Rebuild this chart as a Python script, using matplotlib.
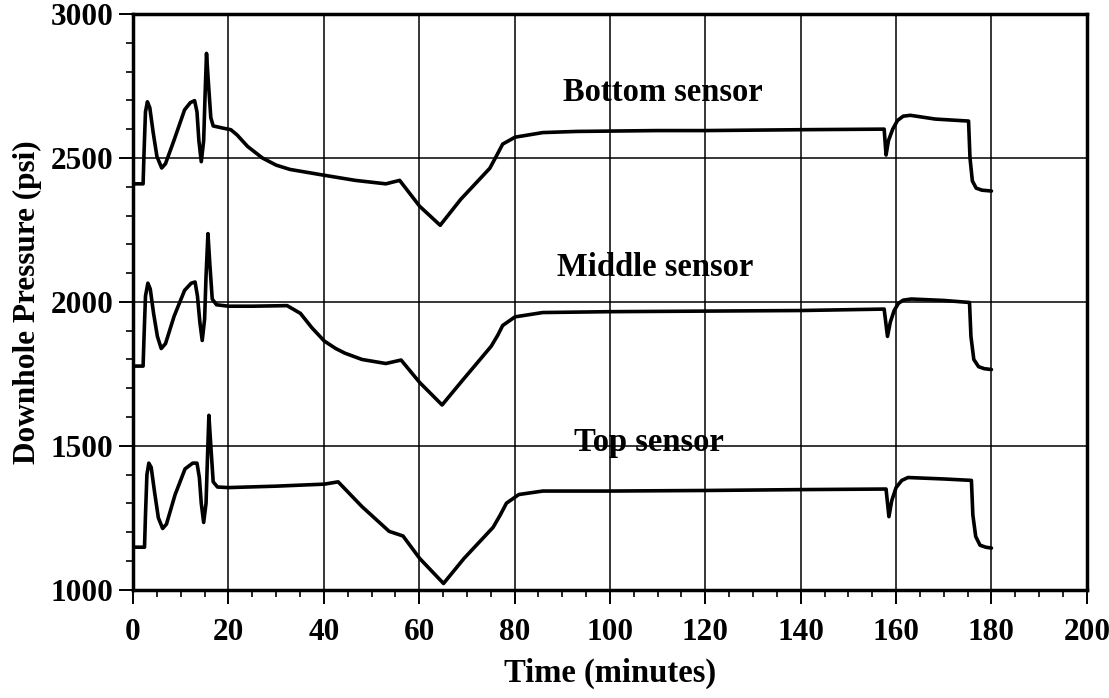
import numpy as np
import matplotlib
matplotlib.use("Agg")
import matplotlib.pyplot as plt
from matplotlib.ticker import MultipleLocator

# ---------------------------------------------------------------------------
# Data (time in minutes, pressure in psi)
# ---------------------------------------------------------------------------
bottom_t = [0, 2.1, 2.3, 2.6, 3.0, 3.5, 4.2, 5.0, 6.0, 6.8, 8.6, 10.8, 12.0,
            12.9, 13.4, 13.8, 14.3, 14.8, 15.1, 15.4, 15.8, 16.3, 16.8, 19,
            20.5, 21.8, 24, 27.1, 30, 32.9, 40, 46.6, 53, 55.9, 60.1, 64.4,
            68.7, 74.8, 76.3, 77.5, 80.1, 85.9, 93, 110, 120, 140, 157.5,
            157.9, 158.4, 159.3, 160.3, 161.5, 163, 168.2, 175.2, 175.5, 176.0,
            176.8, 178, 180]
bottom_p = [2410, 2410, 2520, 2660, 2695, 2675, 2590, 2505, 2465, 2480, 2562,
            2667, 2692, 2699, 2660, 2560, 2487, 2560, 2720, 2863, 2760, 2640,
            2611, 2603, 2598, 2580, 2540, 2500, 2475, 2460, 2440, 2422, 2410,
            2422, 2332, 2266, 2356, 2464, 2510, 2548, 2572, 2588, 2592, 2595,
            2595, 2598, 2600, 2510, 2560, 2600, 2630, 2645, 2648, 2635, 2628,
            2500, 2420, 2395, 2388, 2385]

middle_t = [0, 2.1, 2.3, 2.6, 3.1, 3.6, 4.3, 5.1, 5.9, 6.8, 8.6, 10.8, 12.2,
            13.0, 13.5, 14.0, 14.5, 15.0, 15.3, 15.7, 16.1, 16.6, 17.5, 20,
            25, 32.3, 35.1, 37.5, 40.1, 42.5, 44.4, 48, 53, 56.2, 60.1, 64.8,
            68.7, 75.1, 76.5, 77.5, 80.1, 85.9, 100, 120, 140, 157.5, 158.2,
            158.8, 159.6, 160.5, 161.5, 163.2, 170, 175.4, 175.7, 176.3, 177.3,
            178.5, 180]
middle_p = [1777, 1777, 1880, 2020, 2065, 2045, 1960, 1880, 1838, 1855, 1950,
            2040, 2065, 2069, 2020, 1930, 1866, 1940, 2090, 2237, 2130, 2010,
            1990, 1985, 1985, 1987, 1960, 1910, 1864, 1838, 1822, 1800, 1786,
            1798, 1720, 1642, 1720, 1846, 1885, 1918, 1948, 1963, 1966, 1968,
            1970, 1975, 1880, 1930, 1970, 1995, 2006, 2010, 2005, 1998, 1880,
            1800, 1775, 1768, 1765]

top_t = [0, 2.4, 2.6, 2.9, 3.3, 3.8, 4.5, 5.3, 6.2, 7.0, 8.8, 10.9, 12.5,
         13.4, 13.9, 14.3, 14.8, 15.3, 15.6, 15.9, 16.3, 16.8, 17.7, 20, 30,
         40.1, 43, 48, 53.7, 56.6, 60.1, 65.1, 69.4, 75.5, 77, 78.3, 80.9,
         85.9, 100, 120, 140, 157.9, 158.5, 159.1, 160.0, 161.2, 162.5, 170,
         175.8, 176.1, 176.7, 177.6, 178.8, 180]
top_p = [1148, 1148, 1260, 1400, 1440, 1425, 1340, 1250, 1213, 1228, 1330,
         1420, 1440, 1440, 1390, 1300, 1234, 1300, 1460, 1606, 1500, 1375,
         1357, 1355, 1360, 1367, 1375, 1289, 1203, 1187, 1109, 1022, 1109,
         1217, 1260, 1301, 1331, 1343, 1343, 1345, 1348, 1350, 1254, 1310,
         1355, 1380, 1390, 1385, 1380, 1260, 1185, 1155, 1148, 1145]

labels = ["Bottom sensor", "Middle sensor", "Top sensor"]
label_t = [111, 109.5, 108.2]
label_p = [2726, 2118, 1510]

# ---------------------------------------------------------------------------
# Figure
# ---------------------------------------------------------------------------
plt.rcParams.update({
    "font.family": ["Liberation Serif", "DejaVu Serif"],
    "font.weight": "bold",
})

fig = plt.figure(figsize=(11.09, 6.98), dpi=100)
ax = fig.add_axes([0.12, 0.155, 0.86, 0.825])

for t, p in [(bottom_t, bottom_p), (middle_t, middle_p), (top_t, top_p)]:
    ax.plot(t, p, color="black", linewidth=2.6, solid_joinstyle="round",
            solid_capstyle="round", zorder=3)

for txt, t, p in zip(labels, label_t, label_p):
    ax.text(t, p, txt, ha="center", va="center", fontsize=23.5,
            fontweight="bold", zorder=4)

ax.set_xlim(0, 200)
ax.set_ylim(1000, 3000)
ax.xaxis.set_major_locator(MultipleLocator(20))
ax.xaxis.set_minor_locator(MultipleLocator(5))
ax.yaxis.set_major_locator(MultipleLocator(500))
ax.yaxis.set_minor_locator(MultipleLocator(100))

ax.grid(True, which="major", color="black", linewidth=1.1)
ax.set_axisbelow(True)

for s in ax.spines.values():
    s.set_linewidth(2.5)

ax.tick_params(axis="both", which="major", direction="out", length=10,
               width=1.4, labelsize=22.5, colors="black")
ax.tick_params(axis="x", which="major", pad=10)
ax.tick_params(axis="y", which="major", pad=4)
ax.tick_params(axis="both", which="minor", direction="out", length=5,
               width=1.2)
for lab in ax.get_xticklabels() + ax.get_yticklabels():
    lab.set_fontweight("bold")

ax.set_xlabel("Time (minutes)", fontsize=23.5, fontweight="bold", labelpad=8)
ax.set_ylabel("Downhole Pressure (psi)", fontsize=22.5, fontweight="bold",
              labelpad=6)

fig.savefig("out.png", dpi=100, facecolor="white")
